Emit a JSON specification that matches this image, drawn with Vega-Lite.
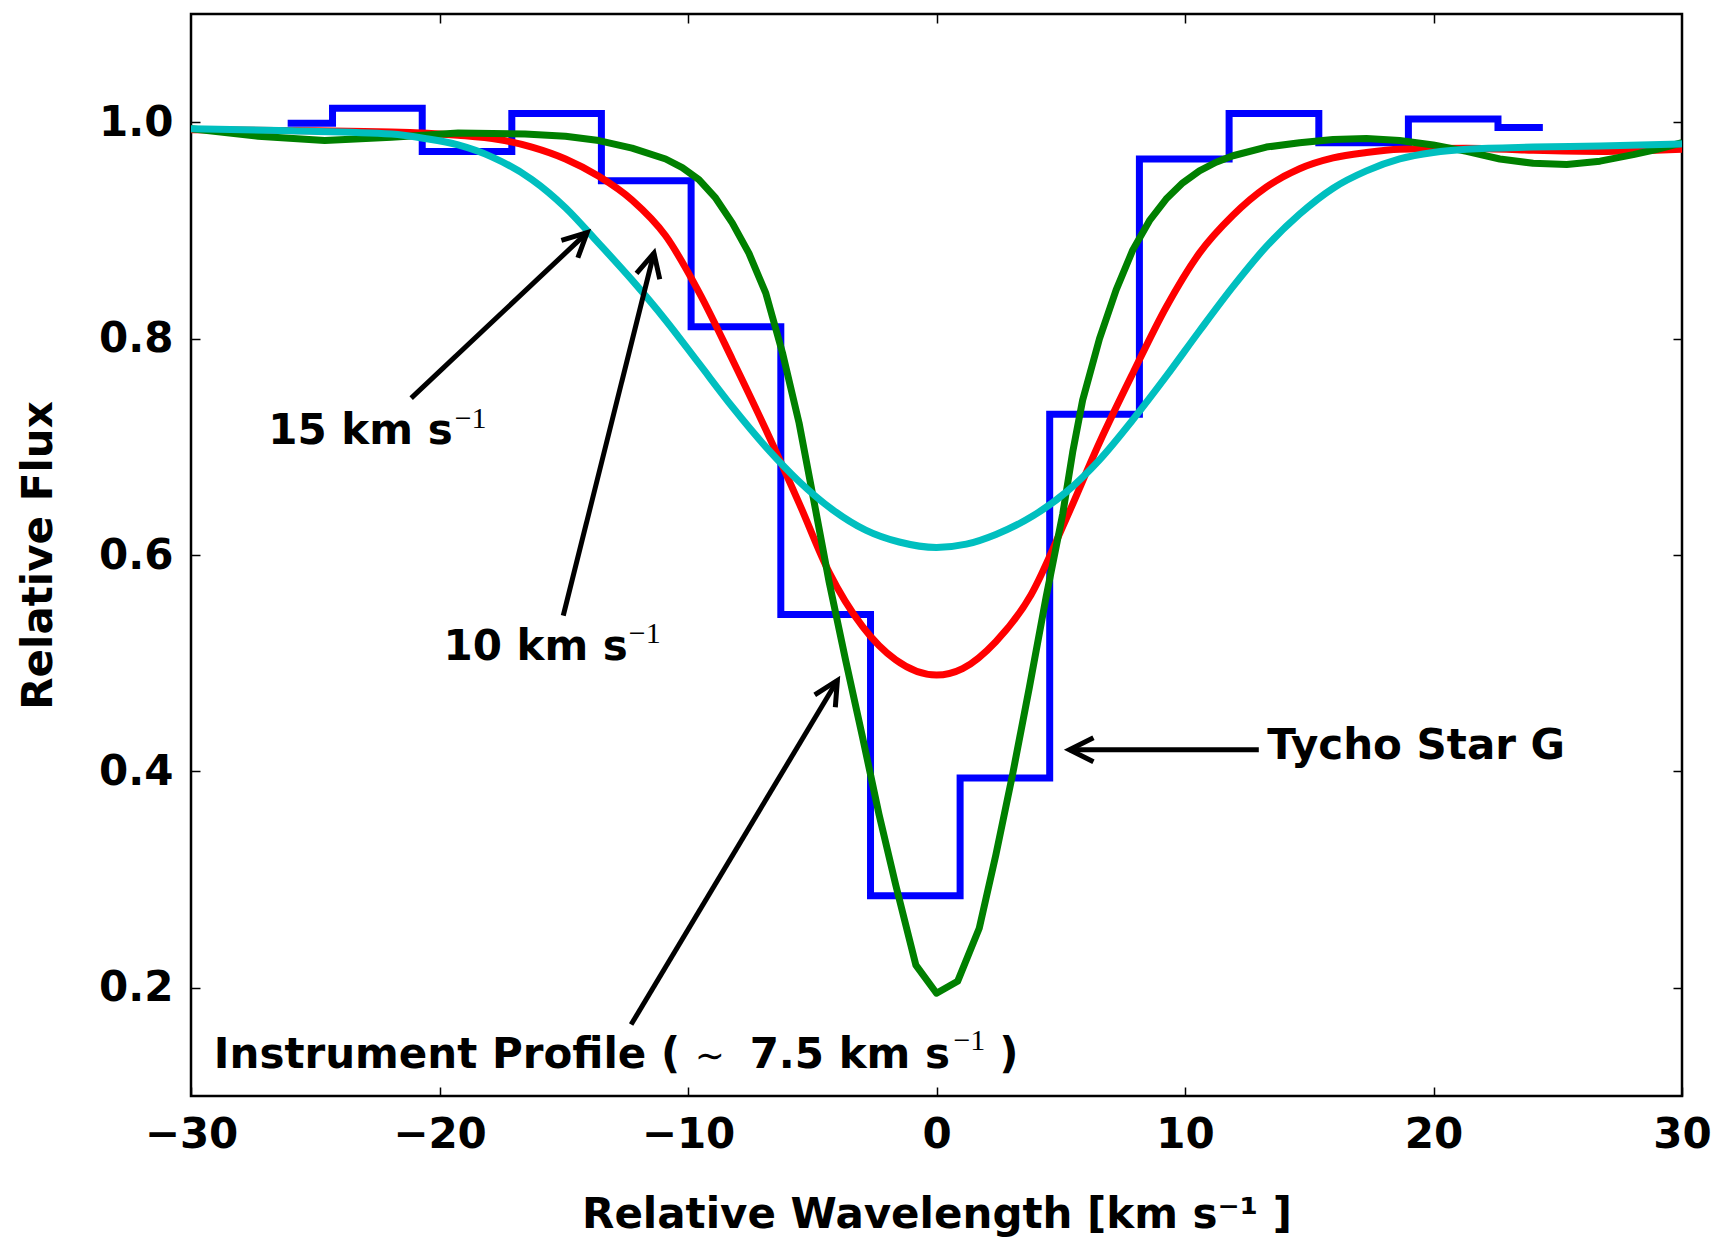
{
  "$schema": "https://vega.github.io/schema/vega-lite/v6.json",
  "width": 1491,
  "height": 1082,
  "autosize": {"type": "none"},
  "padding": {"left": 191, "top": 14, "right": 35, "bottom": 143},
  "background": "white",
  "config": {
    "view": {"stroke": "#000000", "strokeWidth": 2.5},
    "font": "DejaVu Sans"
  },
  "datasets": {
    "obs": [
      {"x": -26.11, "y": 0.999}, {"x": -22.50, "y": 1.013}, {"x": -18.89, "y": 0.973},
      {"x": -15.29, "y": 1.008}, {"x": -11.68, "y": 0.946}, {"x": -8.07, "y": 0.811},
      {"x": -4.46, "y": 0.545}, {"x": -0.85, "y": 0.285}, {"x": 2.75, "y": 0.394},
      {"x": 6.36, "y": 0.730}, {"x": 9.97, "y": 0.966}, {"x": 13.58, "y": 1.008},
      {"x": 17.19, "y": 0.981}, {"x": 20.79, "y": 1.003}, {"x": 24.40, "y": 0.995}
    ],
    "green": [
      {"x": -30, "y": 0.994}, {"x": -27.3, "y": 0.987}, {"x": -24.62, "y": 0.983}, {"x": -21.93, "y": 0.986},
      {"x": -19.25, "y": 0.990}, {"x": -16.56, "y": 0.989}, {"x": -14.93, "y": 0.987}, {"x": -13.59, "y": 0.983},
      {"x": -12.25, "y": 0.976}, {"x": -10.90, "y": 0.966}, {"x": -10.23, "y": 0.958}, {"x": -9.56, "y": 0.947},
      {"x": -8.89, "y": 0.930}, {"x": -8.22, "y": 0.907}, {"x": -7.55, "y": 0.879}, {"x": -6.87, "y": 0.842},
      {"x": -6.20, "y": 0.787}, {"x": -5.53, "y": 0.722}, {"x": -4.86, "y": 0.641}, {"x": -4.32, "y": 0.575},
      {"x": -3.65, "y": 0.502}, {"x": -2.98, "y": 0.432}, {"x": -2.31, "y": 0.360}, {"x": -1.64, "y": 0.295},
      {"x": -0.83, "y": 0.221}, {"x": 0.0, "y": 0.195}, {"x": 0.85, "y": 0.206}, {"x": 1.72, "y": 0.255},
      {"x": 2.39, "y": 0.323}, {"x": 3.06, "y": 0.397}, {"x": 3.74, "y": 0.478}, {"x": 4.41, "y": 0.561},
      {"x": 5.08, "y": 0.638}, {"x": 5.48, "y": 0.695}, {"x": 5.88, "y": 0.743}, {"x": 6.56, "y": 0.800},
      {"x": 7.23, "y": 0.845}, {"x": 7.90, "y": 0.882}, {"x": 8.57, "y": 0.909}, {"x": 9.24, "y": 0.929},
      {"x": 9.91, "y": 0.944}, {"x": 10.58, "y": 0.955}, {"x": 11.25, "y": 0.963}, {"x": 11.93, "y": 0.969},
      {"x": 13.27, "y": 0.977}, {"x": 14.61, "y": 0.981}, {"x": 15.96, "y": 0.984}, {"x": 17.30, "y": 0.985},
      {"x": 18.64, "y": 0.983}, {"x": 19.99, "y": 0.979}, {"x": 21.33, "y": 0.973}, {"x": 22.67, "y": 0.966},
      {"x": 24.01, "y": 0.962}, {"x": 25.36, "y": 0.961}, {"x": 26.70, "y": 0.964}, {"x": 28.04, "y": 0.970},
      {"x": 29.0, "y": 0.975}, {"x": 30, "y": 0.981}
    ],
    "red": [
      {"x": -30, "y": 0.993}, {"x": -21.93, "y": 0.991}, {"x": -19.25, "y": 0.988}, {"x": -17.62, "y": 0.984},
      {"x": -16.28, "y": 0.977}, {"x": -14.93, "y": 0.966}, {"x": -13.59, "y": 0.950}, {"x": -12.25, "y": 0.928},
      {"x": -10.90, "y": 0.895}, {"x": -9.56, "y": 0.843}, {"x": -8.22, "y": 0.781}, {"x": -6.87, "y": 0.716},
      {"x": -5.53, "y": 0.648}, {"x": -4.32, "y": 0.584}, {"x": -2.98, "y": 0.534}, {"x": -1.64, "y": 0.503},
      {"x": 0, "y": 0.489}, {"x": 1.05, "y": 0.495}, {"x": 2.39, "y": 0.520}, {"x": 3.80, "y": 0.563},
      {"x": 5.21, "y": 0.633}, {"x": 6.56, "y": 0.704}, {"x": 7.90, "y": 0.768}, {"x": 9.24, "y": 0.829},
      {"x": 10.58, "y": 0.879}, {"x": 11.93, "y": 0.914}, {"x": 13.27, "y": 0.940}, {"x": 14.61, "y": 0.957},
      {"x": 15.96, "y": 0.967}, {"x": 17.30, "y": 0.972}, {"x": 18.64, "y": 0.975}, {"x": 21.33, "y": 0.976},
      {"x": 24.01, "y": 0.974}, {"x": 26.70, "y": 0.973}, {"x": 30, "y": 0.975}
    ],
    "cyan": [
      {"x": -30, "y": 0.994}, {"x": -25.96, "y": 0.992}, {"x": -21.93, "y": 0.989}, {"x": -20.59, "y": 0.985},
      {"x": -19.25, "y": 0.979}, {"x": -17.90, "y": 0.968}, {"x": -16.28, "y": 0.947}, {"x": -14.93, "y": 0.921},
      {"x": -13.59, "y": 0.888}, {"x": -12.25, "y": 0.854}, {"x": -10.90, "y": 0.817}, {"x": -9.56, "y": 0.777},
      {"x": -8.22, "y": 0.737}, {"x": -6.87, "y": 0.700}, {"x": -5.53, "y": 0.668}, {"x": -4.19, "y": 0.642},
      {"x": -2.85, "y": 0.623}, {"x": -1.50, "y": 0.612}, {"x": 0, "y": 0.607}, {"x": 1.2, "y": 0.610},
      {"x": 2.39, "y": 0.619}, {"x": 3.87, "y": 0.636}, {"x": 5.21, "y": 0.658}, {"x": 6.56, "y": 0.688},
      {"x": 7.90, "y": 0.725}, {"x": 9.24, "y": 0.765}, {"x": 10.58, "y": 0.807}, {"x": 11.93, "y": 0.848},
      {"x": 13.27, "y": 0.885}, {"x": 14.61, "y": 0.915}, {"x": 15.96, "y": 0.939}, {"x": 17.30, "y": 0.955},
      {"x": 18.64, "y": 0.966}, {"x": 19.99, "y": 0.972}, {"x": 21.33, "y": 0.975}, {"x": 24.01, "y": 0.977},
      {"x": 26.70, "y": 0.978}, {"x": 30, "y": 0.980}
    ],
    "notes": [
      {"t": "15 km s", "x": -26.89, "y": 0.703, "k": "main"},
      {"t": "10 km s", "x": -19.84, "y": 0.503, "k": "main"},
      {"t": "Instrument Profile (", "x": -29.08, "y": 0.1256, "k": "main"},
      {"t": "7.5 km s", "x": -7.52, "y": 0.1256, "k": "main"},
      {"t": ")", "x": 2.53, "y": 0.1256, "k": "main"},
      {"t": "Tycho Star G", "x": 13.31, "y": 0.411, "k": "main"},
      {"t": "−1", "x": -19.39, "y": 0.717, "k": "sup"},
      {"t": "−1", "x": -12.38, "y": 0.5185, "k": "sup"},
      {"t": "−1", "x": 0.68, "y": 0.1425, "k": "sup"},
      {"t": "∼", "x": -9.73, "y": 0.1256, "k": "sym"}
    ],
    "arrows": [
      {"a": "15", "x": -21.14, "y": 0.745, "x2": -14.06, "y2": 0.898},
      {"a": "10", "x": -15.02, "y": 0.544, "x2": -11.37, "y2": 0.879},
      {"a": "ip", "x": -12.29, "y": 0.166, "x2": -3.99, "y2": 0.484},
      {"a": "ty", "x": 12.97, "y": 0.42, "x2": 5.35, "y2": 0.42}
    ]
  },
  "resolve": {"axis": {"x": "independent", "y": "independent"}},
  "layer": [
    {
      "data": {"name": "obs"},
      "mark": {"type": "line", "interpolate": "step", "stroke": "#0000ff", "strokeWidth": 7, "clip": true},
      "encoding": {
        "x": {"field": "x", "type": "quantitative",
          "scale": {"domain": [-30, 30], "nice": false, "zero": false},
          "axis": {"orient": "bottom", "values": [-30, -20, -10, 0, 10, 20, 30],
            "title": "Relative Wavelength [km s⁻¹ ]", "domain": false, "grid": false,
            "ticks": true, "tickSize": -9, "tickColor": "#000000", "tickWidth": 1.5,
            "labelFont": "DejaVu Sans", "labelFontSize": 42, "labelFontWeight": "bold", "labelColor": "#000000",
            "labelPadding": 27, "labelFlush": false, "labelOverlap": false,
            "titleFont": "DejaVu Sans", "titleFontSize": 42, "titleFontWeight": "bold", "titleColor": "#000000",
            "titlePadding": 39}},
        "y": {"field": "y", "type": "quantitative",
          "scale": {"domain": [0.1, 1.1], "nice": false, "zero": false},
          "axis": {"orient": "left", "values": [0.2, 0.4, 0.6, 0.8, 1.0], "format": ".1f",
            "title": "Relative Flux", "domain": false, "grid": false,
            "ticks": true, "tickSize": -9, "tickColor": "#000000", "tickWidth": 1.5,
            "labelFont": "DejaVu Sans", "labelFontSize": 42, "labelFontWeight": "bold", "labelColor": "#000000",
            "labelPadding": 27, "labelFlush": false, "labelOverlap": false,
            "titleFont": "DejaVu Sans", "titleFontSize": 42, "titleFontWeight": "bold", "titleColor": "#000000",
            "titlePadding": 38}}
      }
    },
    {
      "data": {"name": "red"},
      "mark": {"type": "line", "interpolate": "monotone", "stroke": "#ff0000", "strokeWidth": 7, "clip": true},
      "encoding": {
        "x": {"field": "x", "type": "quantitative",
          "axis": {"orient": "top", "values": [-20, -10, 0, 10, 20], "labels": false, "domain": false,
            "grid": false, "ticks": true, "tickSize": -9, "tickColor": "#000000", "tickWidth": 1.5, "title": null}},
        "y": {"field": "y", "type": "quantitative",
          "axis": {"orient": "right", "values": [0.2, 0.4, 0.6, 0.8, 1.0], "labels": false, "domain": false,
            "grid": false, "ticks": true, "tickSize": -9, "tickColor": "#000000", "tickWidth": 1.5, "title": null}}
      }
    },
    {
      "data": {"name": "green"},
      "mark": {"type": "line", "interpolate": "linear", "stroke": "#008000", "strokeWidth": 7, "clip": true, "strokeJoin": "round"},
      "encoding": {
        "x": {"field": "x", "type": "quantitative", "axis": null},
        "y": {"field": "y", "type": "quantitative", "axis": null}
      }
    },
    {
      "data": {"name": "cyan"},
      "mark": {"type": "line", "interpolate": "monotone", "stroke": "#00bfbf", "strokeWidth": 7, "clip": true},
      "encoding": {
        "x": {"field": "x", "type": "quantitative", "axis": null},
        "y": {"field": "y", "type": "quantitative", "axis": null}
      }
    },
    {
      "data": {"name": "arrows"},
      "mark": {"type": "rule", "stroke": "#000000", "strokeWidth": 5, "strokeCap": "butt"},
      "encoding": {
        "x": {"field": "x", "type": "quantitative", "axis": null},
        "y": {"field": "y", "type": "quantitative", "axis": null},
        "x2": {"field": "x2"},
        "y2": {"field": "y2"}
      }
    },
    {
      "data": {"name": "arrows"},
      "transform": [{"filter": "datum.a === '15'"}],
      "mark": {"type": "point", "shape": "M-0.5,1L0,0L0.5,1", "size": 2304, "filled": false, "stroke": "#000000", "strokeWidth": 5, "opacity": 1, "angle": 46.7},
      "encoding": {
        "x": {"field": "x2", "type": "quantitative", "axis": null},
        "y": {"field": "y2", "type": "quantitative", "axis": null}
      }
    },
    {
      "data": {"name": "arrows"},
      "transform": [{"filter": "datum.a === '10'"}],
      "mark": {"type": "point", "shape": "M-0.5,1L0,0L0.5,1", "size": 2304, "filled": false, "stroke": "#000000", "strokeWidth": 5, "opacity": 1, "angle": 14.05},
      "encoding": {
        "x": {"field": "x2", "type": "quantitative", "axis": null},
        "y": {"field": "y2", "type": "quantitative", "axis": null}
      }
    },
    {
      "data": {"name": "arrows"},
      "transform": [{"filter": "datum.a === 'ip'"}],
      "mark": {"type": "point", "shape": "M-0.5,1L0,0L0.5,1", "size": 2304, "filled": false, "stroke": "#000000", "strokeWidth": 5, "opacity": 1, "angle": 30.9},
      "encoding": {
        "x": {"field": "x2", "type": "quantitative", "axis": null},
        "y": {"field": "y2", "type": "quantitative", "axis": null}
      }
    },
    {
      "data": {"name": "arrows"},
      "transform": [{"filter": "datum.a === 'ty'"}],
      "mark": {"type": "point", "shape": "M-0.5,1L0,0L0.5,1", "size": 2304, "filled": false, "stroke": "#000000", "strokeWidth": 5, "opacity": 1, "angle": 270},
      "encoding": {
        "x": {"field": "x2", "type": "quantitative", "axis": null},
        "y": {"field": "y2", "type": "quantitative", "axis": null}
      }
    },
    {
      "data": {"name": "notes"},
      "transform": [{"filter": "datum.k === 'main'"}],
      "mark": {"type": "text", "font": "DejaVu Sans", "fontSize": 42, "fontWeight": "bold", "align": "left", "baseline": "alphabetic", "color": "#000000"},
      "encoding": {
        "x": {"field": "x", "type": "quantitative", "axis": null},
        "y": {"field": "y", "type": "quantitative", "axis": null},
        "text": {"field": "t"}
      }
    },
    {
      "data": {"name": "notes"},
      "transform": [{"filter": "datum.k === 'sup'"}],
      "mark": {"type": "text", "font": "Liberation Serif", "fontSize": 30, "fontWeight": "normal", "align": "left", "baseline": "alphabetic", "color": "#000000"},
      "encoding": {
        "x": {"field": "x", "type": "quantitative", "axis": null},
        "y": {"field": "y", "type": "quantitative", "axis": null},
        "text": {"field": "t"}
      }
    },
    {
      "data": {"name": "notes"},
      "transform": [{"filter": "datum.k === 'sym'"}],
      "mark": {"type": "text", "font": "DejaVu Serif", "fontSize": 36, "fontWeight": "normal", "align": "left", "baseline": "alphabetic", "color": "#000000"},
      "encoding": {
        "x": {"field": "x", "type": "quantitative", "axis": null},
        "y": {"field": "y", "type": "quantitative", "axis": null},
        "text": {"field": "t"}
      }
    }
  ]
}
